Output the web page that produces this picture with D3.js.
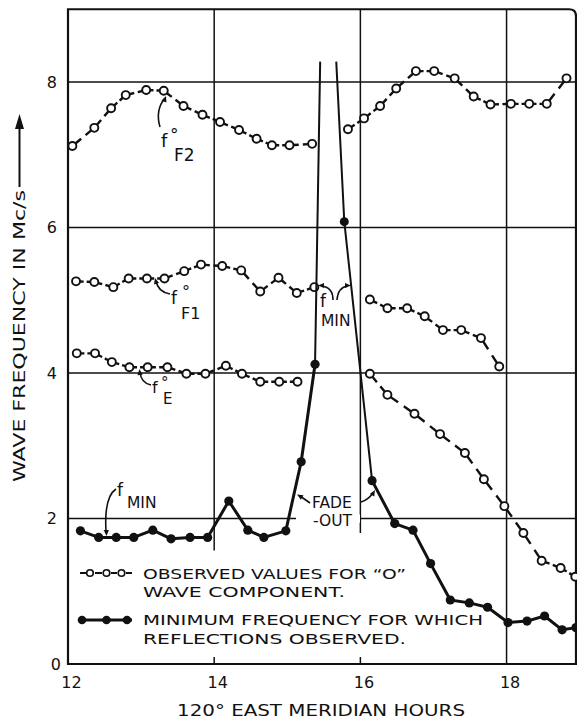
<!DOCTYPE html>
<html><head><meta charset="utf-8">
<script src="https://cdn.jsdelivr.net/npm/d3@7"></script>
<style>
body{margin:0;background:#fff}
svg{display:block}
text{font-family:"DejaVu Sans",sans-serif;fill:#111}
</style>
</head><body>
<svg id="chart" width="577" height="720"></svg>
<script>
// ---------------- data ----------------
const xTicks = [12, 14, 16, 18];
const yTicks = [0, 2, 4, 6, 8];

// f°F2 (open circles), null = break (fade-out)
const f2Hours  = [12.06,12.36,12.59,12.79,13.07,13.31,13.58,13.84,14.08,14.34,14.58,14.79,15.03,15.34,15.58,15.83,16.05,16.27,16.49,16.76,17.01,17.29,17.55,17.78,18.06,18.31,18.55,18.82];
const f2Values = [7.12,7.37,7.64,7.82,7.89,7.88,7.67,7.55,7.45,7.34,7.22,7.13,7.13,7.15,null,7.35,7.50,7.67,7.91,8.15,8.15,8.05,7.80,7.69,7.70,7.70,7.70,8.05];

// f°F1
const f1Hours  = [12.11,12.36,12.62,12.83,13.08,13.32,13.59,13.82,14.11,14.37,14.63,14.88,15.13,15.37,15.75,16.13,16.37,16.64,16.88,17.13,17.38,17.65,17.90];
const f1Values = [5.26,5.25,5.18,5.30,5.30,5.30,5.40,5.49,5.47,5.41,5.12,5.31,5.10,5.18,null,5.01,4.89,4.89,4.78,4.59,4.59,4.48,4.09];

// f°E
const feHours  = [12.12,12.37,12.60,12.84,13.09,13.36,13.62,13.88,14.16,14.38,14.63,14.89,15.14,15.6,16.13,16.37,16.74,17.09,17.43,17.69,17.97,18.23,18.48,18.74,18.94];
const feValues = [4.27,4.27,4.15,4.08,4.08,4.08,3.99,3.99,4.10,3.99,3.88,3.88,3.88,null,3.99,3.70,3.44,3.16,2.90,2.54,2.17,1.80,1.42,1.32,1.20];

// f MIN (filled circles), reflections observed
const fminHours  = [12.17,12.42,12.66,12.90,13.16,13.41,13.67,13.91,14.20,14.46,14.68,14.98,15.19,15.38,15.7,16.16,16.47,16.72,16.96,17.23,17.49,17.74,18.02,18.28,18.52,18.76,18.95];
const fminValues = [1.83,1.74,1.74,1.74,1.84,1.72,1.74,1.74,2.24,1.84,1.74,1.83,2.78,4.12,null,2.52,1.93,1.84,1.38,0.88,0.84,0.78,0.57,0.59,0.66,0.47,0.50];

// fade-out lines (no reflections)
const fadeUpHours    = [15.38, 15.45];
const fadeUpValues   = [4.12, 8.28];
const fadeDownHours  = [15.67, 15.78, 16.16];
const fadeDownValues = [8.28, 6.08, 2.52];
const fadeDownMarked = [false, true, false];

// ---------------- scales ----------------
const svg = d3.select("#chart");
const x = d3.scaleLinear().domain([12, 18.95]).range([68, 576]);
const y = d3.scaleLinear().domain([0, 9]).range([664, 9.25]);
const INK = "#111";

// ---------------- grid ----------------
const grid = svg.append("g").attr("stroke", INK).attr("stroke-width", 1.5);
grid.selectAll("line.h").data(yTicks.filter(d => d > 0)).join("line")
  .attr("x1", x(12)).attr("x2", x(18.95))
  .attr("y1", d => y(d)).attr("y2", d => y(d));
const vStops = {14: 1.56, 16: 1.80, 18: 0};
grid.selectAll("line.v").data([14, 16, 18]).join("line")
  .attr("x1", d => x(d)).attr("x2", d => x(d))
  .attr("y1", y(9)).attr("y2", d => y(vStops[d]));
grid.selectAll("line.t").data([14, 16]).join("line")
  .attr("x1", d => x(d)).attr("x2", d => x(d))
  .attr("y1", y(0) - 7).attr("y2", y(0));

// frame with rounded top-right corner
const r0 = 7;
svg.append("path")
  .attr("d", `M${x(12)},${y(0)}V${y(9)}H${x(18.95) - r0}Q${x(18.95)},${y(9)} ${x(18.95)},${y(9) + r0}V${y(0)}H${x(12)}Z`)
  .attr("fill", "none").attr("stroke", INK).attr("stroke-width", 2.2);

// ---------------- axes labels ----------------
const xAxis = svg.append("g").attr("transform", `translate(0,${y(0)})`)
  .call(d3.axisBottom(x).tickValues(xTicks).tickSize(0).tickPadding(13).tickFormat(d3.format("d")));
xAxis.select(".domain").remove();
xAxis.selectAll("text").attr("font-size", 16).attr("dx", 3).attr("fill", INK)
  .style("font-family", "DejaVu Sans");

const yAxis = svg.append("g").attr("transform", `translate(${x(12)},0)`)
  .call(d3.axisLeft(y).tickValues(yTicks).tickSize(0).tickPadding(7).tickFormat(d3.format("d")));
yAxis.select(".domain").remove();
yAxis.selectAll("text").attr("font-size", 16).attr("fill", INK)
  .style("font-family", "DejaVu Sans");
yAxis.selectAll(".tick").filter(d => d > 0).select("text").attr("dx", -4);

// x title
svg.append("text").attr("x", 177).attr("y", 716).attr("font-size", 16.5)
  .attr("textLength", 288).attr("lengthAdjust", "spacingAndGlyphs")
  .text("120° EAST MERIDIAN HOURS");

// y title (rotated) + arrow
svg.append("text").attr("transform", "translate(25,482) rotate(-90)").attr("font-size", 16)
  .attr("textLength", 292).attr("lengthAdjust", "spacingAndGlyphs")
  .text("WAVE FREQUENCY IN Mc/s");
svg.append("line").attr("x1", 19.5).attr("x2", 19.5).attr("y1", 187).attr("y2", 126)
  .attr("stroke", INK).attr("stroke-width", 2);
svg.append("path").attr("d", "M19.5,114L15,129L24,129Z").attr("fill", INK);

// white mask breaking the 2-line behind FADE-OUT
svg.append("rect").attr("x", 296).attr("y", y(2) - 4).attr("width", 64).attr("height", 8).attr("fill", "#fff");

// ---------------- series ----------------
const series = svg.append("g");

function openSeries(hours, vals) {
  const pts = hours.map((h, i) => vals[i] == null ? null : [x(h), y(vals[i])]);
  const g = series.append("g");
  const R = 4;
  for (let i = 0; i < pts.length - 1; i++) {
    const a = pts[i], b = pts[i + 1];
    if (!a || !b) continue;
    const dx = b[0] - a[0], dy = b[1] - a[1], L = Math.hypot(dx, dy);
    const ux = dx / L, uy = dy / L;
    const inner = L - 2 * R;
    if (inner <= 0) continue;
    const gap = Math.max(3, inner * 0.28);
    const d = (inner - gap) / 2;
    g.append("path")
      .attr("d", `M${a[0] + ux * R},${a[1] + uy * R}L${a[0] + ux * (R + d)},${a[1] + uy * (R + d)}M${b[0] - ux * (R + d)},${b[1] - uy * (R + d)}L${b[0] - ux * R},${b[1] - uy * R}`)
      .attr("stroke", INK).attr("stroke-width", 2.4).attr("fill", "none");
  }
  g.selectAll("circle").data(pts.filter(p => p)).join("circle")
    .attr("cx", p => p[0]).attr("cy", p => p[1]).attr("r", R)
    .attr("fill", "#fff").attr("stroke", INK).attr("stroke-width", 1.9);
}
openSeries(f2Hours, f2Values);
openSeries(f1Hours, f1Values);
openSeries(feHours, feValues);

// fade-out thin lines
const fadeLine = d3.line().x(d => x(d[0])).y(d => y(d[1]));
series.append("path").datum(fadeUpHours.map((h, i) => [h, fadeUpValues[i]]))
  .attr("d", fadeLine).attr("fill", "none").attr("stroke", INK).attr("stroke-width", 2);
series.append("path").datum(fadeDownHours.map((h, i) => [h, fadeDownValues[i]]))
  .attr("d", fadeLine).attr("fill", "none").attr("stroke", INK).attr("stroke-width", 2);
series.selectAll("circle.fd").data(fadeDownHours.map((h, i) => [h, fadeDownValues[i], fadeDownMarked[i]]).filter(d => d[2]))
  .join("circle").attr("cx", d => x(d[0])).attr("cy", d => y(d[1])).attr("r", 4.5).attr("fill", INK);

// fmin thick line
const minData = fminHours.map((h, i) => [h, fminValues[i]]);
series.append("path").datum(minData)
  .attr("d", d3.line().defined(d => d[1] != null).x(d => x(d[0])).y(d => y(d[1])))
  .attr("fill", "none").attr("stroke", INK).attr("stroke-width", 3).attr("stroke-linejoin", "round");
series.selectAll("circle.m").data(minData.filter(d => d[1] != null)).join("circle")
  .attr("cx", d => x(d[0])).attr("cy", d => y(d[1])).attr("r", 4.6).attr("fill", INK);

// ---------------- annotations ----------------
const ann = svg.append("g");
function arrowPath(d, tip, angleDeg) {
  ann.append("path").attr("d", d).attr("fill", "none").attr("stroke", INK).attr("stroke-width", 1.6);
  const a = angleDeg * Math.PI / 180, L = 6, w = 2.6;
  const bx = tip[0] - Math.cos(a) * L, by = tip[1] - Math.sin(a) * L;
  const px = -Math.sin(a) * w, py = Math.cos(a) * w;
  ann.append("path").attr("d", `M${tip[0]},${tip[1]}L${bx + px},${by + py}L${bx - px},${by - py}Z`).attr("fill", INK);
}
function label(t, xx, yy, fs) {
  ann.append("text").attr("x", xx).attr("y", yy).attr("font-size", fs).text(t);
}
// f°F2
label("f", 161, 147, 18); label("°", 170, 141, 17); label("F2", 174, 161, 17);
arrowPath("M160,127 Q155,110 165,98", [166, 96], -70);
// f°F1
label("f", 171, 304, 17); label("°", 182, 297, 16); label("F1", 181, 319, 16);
arrowPath("M170,294 Q158,292 156,281", [155, 278], -105);
// f°E
label("f", 152, 393, 16); label("°", 161, 388, 15); label("E", 163, 404, 15);
arrowPath("M151,385 Q141,383 140,372", [139.5, 369], -95);
// f MIN (lower left)
label("f", 117, 496, 17); label("MIN", 127, 508, 15.5);
arrowPath("M116,489 Q104,497 106,531", [106.5, 536], 88);
// f MIN (at the peak)
label("f", 320, 307, 17); label("MIN", 321, 326, 15.5);
arrowPath("M333,300 Q333,287 321,286", [318, 285.5], 180);
arrowPath("M337,300 Q338,287 348,286", [351, 285.5], 0);
// FADE -OUT
label("FADE", 312, 508, 15.5); label("-OUT", 313, 526, 15.5);
arrowPath("M310,503 L300,496", [297, 494.5], -150);
arrowPath("M361,502 Q368,500 373,493", [375, 490], -60);

// ---------------- legend ----------------
const leg = svg.append("g");
[[80, 86], [95, 102], [111, 117], [126, 132]].forEach(s =>
  leg.append("line").attr("x1", s[0]).attr("x2", s[1]).attr("y1", 573).attr("y2", 573)
    .attr("stroke", INK).attr("stroke-width", 2));
[90, 106.5, 121.5].forEach(cx =>
  leg.append("circle").attr("cx", cx).attr("cy", 573).attr("r", 3.3)
    .attr("fill", "#fff").attr("stroke", INK).attr("stroke-width", 1.6));
leg.append("line").attr("x1", 80).attr("x2", 132).attr("y1", 620).attr("y2", 620)
  .attr("stroke", INK).attr("stroke-width", 3);
[82, 106.5, 127].forEach(cx =>
  leg.append("circle").attr("cx", cx).attr("cy", 620).attr("r", 4.3).attr("fill", INK));

function legText(t, yy, w) {
  leg.append("text").attr("x", 143).attr("y", yy).attr("font-size", 14)
    .attr("textLength", w).attr("lengthAdjust", "spacingAndGlyphs").text(t);
}
legText("OBSERVED VALUES FOR “O”", 578.5, 263);
legText("WAVE COMPONENT.", 597, 202);
legText("MINIMUM FREQUENCY FOR WHICH", 625, 340);
legText("REFLECTIONS OBSERVED.", 643.5, 263);
</script>
</body></html>
